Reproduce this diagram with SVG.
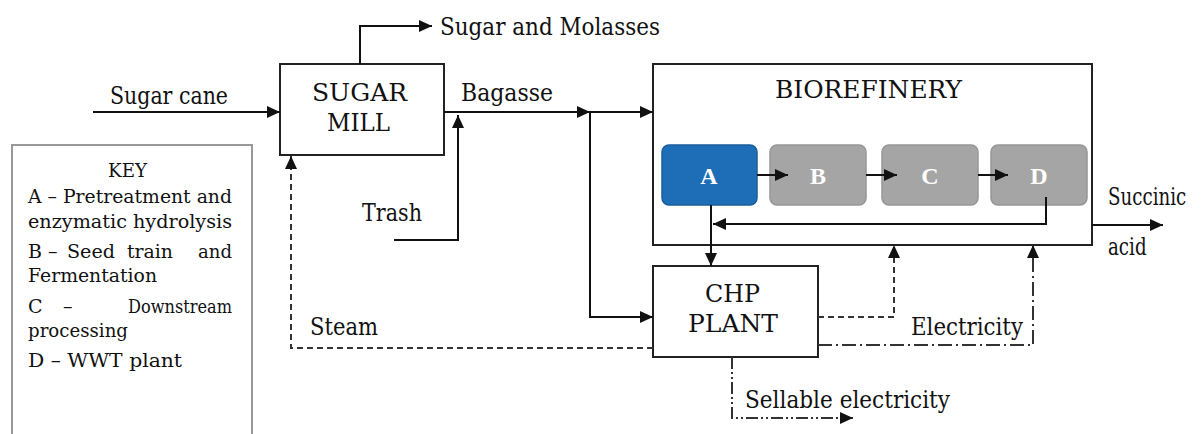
<svg xmlns="http://www.w3.org/2000/svg" width="1204" height="434" viewBox="0 0 1204 434">
  <defs>
    <marker id="arrow" markerUnits="userSpaceOnUse" markerWidth="14" markerHeight="12" refX="13" refY="6" orient="auto">
      <path d="M0,0 L13,6 L0,12 z" fill="#111"/>
    </marker>
    <style>
      text { font-family: 'DejaVu Serif', 'Liberation Serif', serif; }
      .lbl { font-size: 24px; fill: #111; }
      .key { font-size: 19px; fill: #111; }
      .box { fill: #fff; stroke: #222; stroke-width: 2; }
      .unit { stroke-width: 1.5; }
      .unit-text { font-family: 'Liberation Serif', serif; font-size: 24px; font-weight: bold; fill: #fff; text-anchor: middle; }
      .flow { fill: none; stroke: #111; stroke-width: 2; }
      .steam { stroke: #333; stroke-dasharray: 6 4; }
      .elec { stroke: #333; stroke-dasharray: 14 4 2 4; }
      .sell { stroke: #333; stroke-dasharray: 12 3 2 3 2 3; }
    </style>
  </defs>

  <rect width="1204" height="434" fill="#fff"/>

  <!-- key panel -->
  <g id="key">
    <rect x="12" y="145" width="240" height="300" fill="#fff" stroke="#999" stroke-width="2"/>
    <text class="key" x="108" y="177" textLength="39" lengthAdjust="spacingAndGlyphs">KEY</text>
    <text class="key" x="28" y="203" textLength="204" lengthAdjust="spacingAndGlyphs">A – Pretreatment and</text>
    <text class="key" x="28" y="228" textLength="204" lengthAdjust="spacingAndGlyphs">enzymatic hydrolysis</text>
    <text class="key" y="258"><tspan x="28">B</tspan><tspan x="48">–</tspan><tspan x="67" textLength="48" lengthAdjust="spacingAndGlyphs">Seed</tspan><tspan x="127" textLength="46" lengthAdjust="spacingAndGlyphs">train</tspan><tspan x="198" textLength="34" lengthAdjust="spacingAndGlyphs">and</tspan></text>
    <text class="key" x="28" y="282" textLength="129" lengthAdjust="spacingAndGlyphs">Fermentation</text>
    <text class="key" y="313"><tspan x="28">C</tspan><tspan x="63">–</tspan><tspan x="128" textLength="104" lengthAdjust="spacingAndGlyphs">Downstream</tspan></text>
    <text class="key" x="28" y="337" textLength="100" lengthAdjust="spacingAndGlyphs">processing</text>
    <text class="key" x="28" y="367" textLength="154" lengthAdjust="spacingAndGlyphs">D – WWT plant</text>
  </g>

  <!-- process blocks -->
  <g id="sugar-mill">
    <rect class="box" x="280" y="64" width="164" height="91"/>
    <text class="lbl" x="312" y="101" textLength="95" lengthAdjust="spacingAndGlyphs">SUGAR</text>
    <text class="lbl" x="327" y="131" textLength="63" lengthAdjust="spacingAndGlyphs">MILL</text>
  </g>

  <g id="biorefinery">
    <rect class="box" x="653" y="64" width="439" height="181"/>
    <text class="lbl" x="775" y="98" textLength="187" lengthAdjust="spacingAndGlyphs">BIOREFINERY</text>
  </g>

  <g id="unit-a">
    <rect class="unit" x="662" y="145" width="95" height="60" rx="7" fill="#1d6db7" stroke="#1a5d9c"/>
    <text class="unit-text" x="709" y="184">A</text>
  </g>
  <g id="unit-b">
    <rect class="unit" x="770" y="145" width="96" height="60" rx="7" fill="#a5a5a5" stroke="#969696"/>
    <text class="unit-text" x="818" y="184">B</text>
  </g>
  <g id="unit-c">
    <rect class="unit" x="882" y="145" width="96" height="60" rx="7" fill="#a5a5a5" stroke="#969696"/>
    <text class="unit-text" x="930" y="184">C</text>
  </g>
  <g id="unit-d">
    <rect class="unit" x="991" y="145" width="96" height="60" rx="7" fill="#a5a5a5" stroke="#969696"/>
    <text class="unit-text" x="1039" y="184">D</text>
  </g>

  <g id="chp-plant">
    <rect class="box" x="653" y="266" width="165" height="91"/>
    <text class="lbl" x="705" y="302" textLength="55" lengthAdjust="spacingAndGlyphs">CHP</text>
    <text class="lbl" x="688" y="332" textLength="90" lengthAdjust="spacingAndGlyphs">PLANT</text>
  </g>

  <!-- stream labels -->
  <g id="labels">
    <text class="lbl" x="110" y="104" textLength="118" lengthAdjust="spacingAndGlyphs">Sugar cane</text>
    <text class="lbl" x="440" y="35" textLength="220" lengthAdjust="spacingAndGlyphs">Sugar and Molasses</text>
    <text class="lbl" x="461" y="101" textLength="92" lengthAdjust="spacingAndGlyphs">Bagasse</text>
    <text class="lbl" x="362" y="221" textLength="60" lengthAdjust="spacingAndGlyphs">Trash</text>
    <text class="lbl" x="310" y="335" textLength="68" lengthAdjust="spacingAndGlyphs">Steam</text>
    <text class="lbl" x="911" y="335" textLength="112" lengthAdjust="spacingAndGlyphs">Electricity</text>
    <text class="lbl" x="745" y="408" textLength="205" lengthAdjust="spacingAndGlyphs">Sellable electricity</text>
    <!-- product label at the right edge, narrowed horizontally to stay inside the frame -->
    <text class="lbl" transform="translate(1108,205) scale(0.76,1)" x="0" y="0">Succinic</text>
    <text class="lbl" transform="translate(1108,255) scale(0.76,1)" x="0" y="0">acid</text>
  </g>

  <!-- connectors -->
  <g id="connectors">
    <path class="flow" d="M93,112 H280" marker-end="url(#arrow)"/>
    <path class="flow" d="M360,64 V26 H432" marker-end="url(#arrow)"/>
    <path class="flow" d="M444,112 H590" marker-end="url(#arrow)"/>
    <path class="flow" d="M590,112 H653" marker-end="url(#arrow)"/>
    <path class="flow" d="M590,112 V317 H653" marker-end="url(#arrow)"/>
    <path class="flow" d="M394,240 H458 V115" marker-end="url(#arrow)"/>
    <path class="flow" d="M757,175 H788" marker-end="url(#arrow)"/>
    <path class="flow" d="M866,175 H897" marker-end="url(#arrow)"/>
    <path class="flow" d="M978,175 H1008" marker-end="url(#arrow)"/>
    <path class="flow" d="M1046,197 V224 H713" marker-end="url(#arrow)"/>
    <path class="flow" d="M711,205 V266" marker-end="url(#arrow)"/>
    <path class="flow" d="M1092,225 H1163" marker-end="url(#arrow)"/>
    <path class="flow steam" d="M653,348 H291 V156" marker-end="url(#arrow)"/>
    <path class="flow steam" d="M818,317 H894 V245" marker-end="url(#arrow)"/>
    <path class="flow elec" d="M818,345 H1033 V245" marker-end="url(#arrow)"/>
    <path class="flow sell" d="M732,357 V418 H853" marker-end="url(#arrow)"/>
  </g>
</svg>
